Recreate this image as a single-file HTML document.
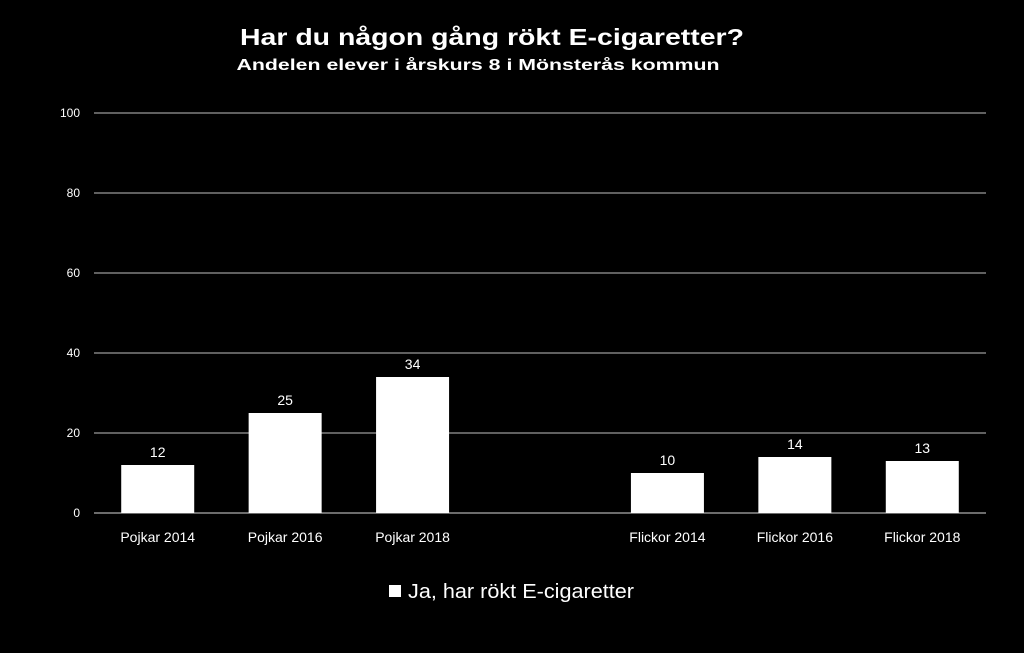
<!DOCTYPE html>
<html><head><meta charset="utf-8"><style>
html,body{margin:0;padding:0;background:#000;}
svg{display:block;font-family:"Liberation Sans",sans-serif;}
</style></head><body>
<svg id="chart" width="1024" height="653" viewBox="0 0 1024 653">
<rect x="0" y="0" width="1024" height="653" fill="#000"/>
<text x="492" y="45" text-anchor="middle" fill="#fff" font-weight="bold" font-size="23" textLength="504" lengthAdjust="spacingAndGlyphs">Har du någon gång rökt E-cigaretter?</text>
<text x="478" y="70" text-anchor="middle" fill="#fff" font-weight="bold" font-size="16" textLength="483" lengthAdjust="spacingAndGlyphs">Andelen elever i årskurs 8 i Mönsterås kommun</text>
<g id="grid"></g><g id="bars"></g><g id="labels"></g>
<rect x="389" y="585" width="12" height="12" fill="#fff"/>
<text x="408" y="598" fill="#fff" font-size="20" textLength="226" lengthAdjust="spacingAndGlyphs">Ja, har rökt E-cigaretter</text>
</svg>
<script>
const categories=["Pojkar 2014","Pojkar 2016","Pojkar 2018","","Flickor 2014","Flickor 2016","Flickor 2018"];
const values=[12,25,34,null,10,14,13];
const ticks=[0,20,40,60,80,100];
const NS="http://www.w3.org/2000/svg";
const x0=94,x1=986,yBase=513,yTop=113,vmax=100;
const y=v=>yBase-(v/vmax)*(yBase-yTop);
const slot=(x1-x0)/categories.length;
const xc=i=>x0+slot*(i+0.5);
const bw=73;
const grid=document.getElementById('grid'),bars=document.getElementById('bars'),labels=document.getElementById('labels');
function mk(t,a){const e=document.createElementNS(NS,t);for(const k in a)e.setAttribute(k,a[k]);return e;}
ticks.forEach(t=>{
  const l=mk('line',{x1:x0,x2:x1,y1:y(t),y2:y(t),stroke:t===0?'#d9d9d9':'#bfbfbf','stroke-width':1});
  
  
  grid.appendChild(l);
  const tx=mk('text',{x:80,y:y(t)+4,'text-anchor':'end',fill:'#fff','font-size':12});
  tx.textContent=t;
  
  
  grid.appendChild(tx);
});
categories.forEach((c,i)=>{
  if(c){
    const cl=mk('text',{x:xc(i),y:542,'text-anchor':'middle',fill:'#fff','font-size':14});
    cl.textContent=c;
    
    
    labels.appendChild(cl);
  }
  const v=values[i];
  if(v==null)return;
  const r=mk('rect',{x:xc(i)-bw/2,y:y(v),width:bw,height:yBase-y(v),fill:'#fff'});
  
  
  bars.appendChild(r);
  const vl=mk('text',{x:xc(i),y:y(v)-8,'text-anchor':'middle',fill:'#fff','font-size':14});
  vl.textContent=v;
  
  
  labels.appendChild(vl);
});
</script>
</body></html>
